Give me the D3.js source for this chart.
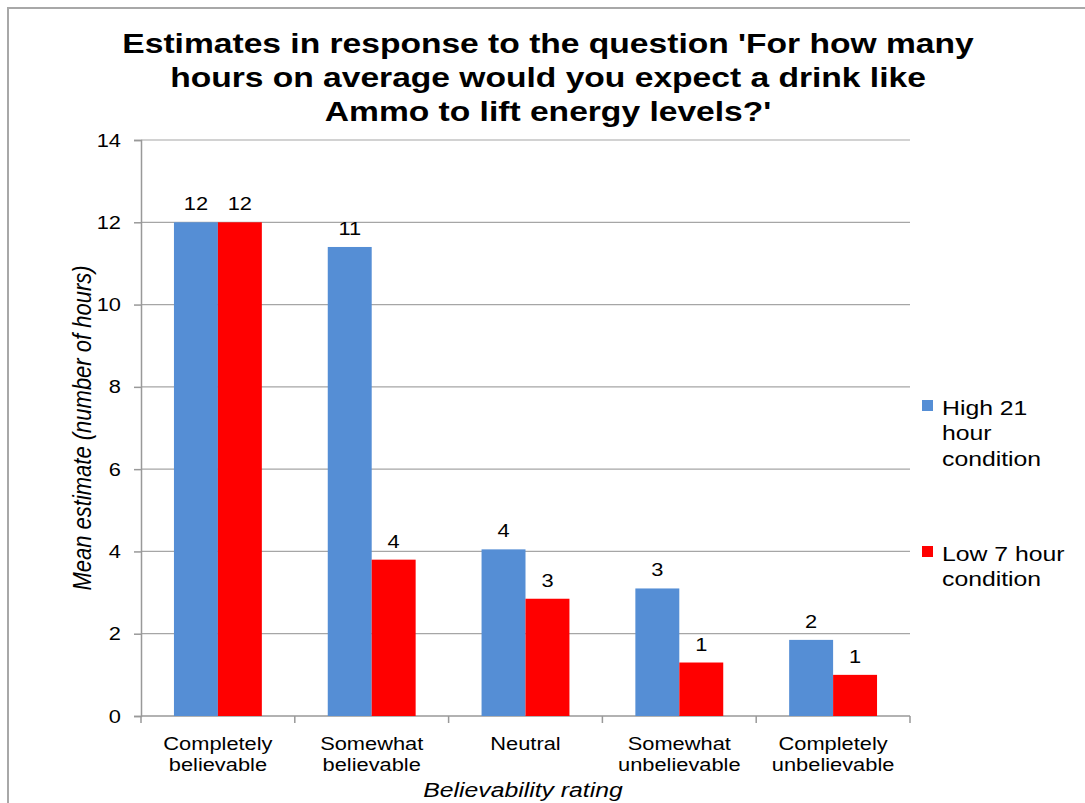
<!DOCTYPE html>
<html>
<head>
<meta charset="utf-8">
<script src="https://cdn.jsdelivr.net/npm/d3@7"></script>
<style>
body { margin: 0; background: #fff; }
text { font-family: "Liberation Sans", Arial, sans-serif; fill: #000; }
</style>
</head>
<body>
<div id="chart"></div>
<script>
var categories = [["Completely", "believable"], ["Somewhat", "believable"], ["Neutral"], ["Somewhat", "unbelievable"], ["Completely", "unbelievable"]];
var highValues = [12, 11.4, 4.05, 3.1, 1.85];
var lowValues = [12, 3.8, 2.85, 1.3, 1.0];
var seriesNames = [["High 21", "hour", "condition"], ["Low 7 hour", "condition"]];
var yTicks = [0, 2, 4, 6, 8, 10, 12, 14];
var titleLines = ["Estimates in response to the question 'For how many", "hours on average would you expect a drink like", "Ammo to lift energy levels?'"];

var width = 1085, height = 803;
var margin = {top: 140, left: 141, right: 175, bottom: 87};
var colors = ["#558ed5", "#ff0000"];
var stretch = 1.18; // the source picture is a bit wider than tall

var svg = d3.select('#chart')
    .append('svg')
    .attr('width', width)
    .attr('height', height);

// text helper: places a (possibly multi line) label, stretched sideways
function addText(x, y, lines, size, anchor, lineGap, sx, extra){
    var t = svg.append('text')
        .attr('transform', 'translate(' + x + ',' + y + ') scale(' + sx + ',1)' + (extra || ''))
        .attr('font-size', size)
        .attr('text-anchor', anchor);
    t.selectAll('tspan')
        .data(lines)
        .enter().append('tspan')
        .attr('x', 0)
        .attr('dy', function(d, i){ return i == 0 ? 0 : lineGap })
        .text(function(d){ return d });
    return t;
}

// outer frame (cut off on the right and bottom)
svg.append('rect')
    .attr('x', 8).attr('y', 8)
    .attr('width', width + 20).attr('height', height + 20)
    .attr('fill', 'none')
    .attr('stroke', '#a8a8a8')
    .attr('stroke-width', 2);

var x = d3.scaleBand()
    .domain(d3.range(categories.length))
    .range([margin.left, width - margin.right]);

var xInner = d3.scaleBand()
    .domain([0, 1])
    .range([0, x.bandwidth()])
    .paddingInner(0)
    .paddingOuter(0.75);

var y = d3.scaleLinear()
    .domain([0, 14])
    .range([height - margin.bottom, margin.top]);

// gridlines
svg.selectAll('.grid')
    .data(yTicks.slice(1))
    .enter().append('line')
    .attr('x1', margin.left).attr('x2', width - margin.right)
    .attr('y1', function(d){ return y(d) }).attr('y2', function(d){ return y(d) })
    .attr('stroke', '#a6a6a6').attr('stroke-width', 1.2);

// y axis
var yAxis = svg.append('g')
    .attr('transform', 'translate(' + margin.left + ',0)')
    .call(d3.axisLeft(y).tickValues(yTicks).tickSize(7).tickFormat(''));
yAxis.select('.domain').attr('stroke', '#999').attr('stroke-width', 1.5);
yAxis.selectAll('.tick line').attr('stroke', '#999').attr('stroke-width', 1.5);

yTicks.forEach(function(v){
    addText(margin.left - 20, y(v) + 6.5, [String(v)], 18.5, 'end', 0, stretch);
});

// x axis
var xAxisG = svg.append('g').attr('transform', 'translate(0,' + y(0) + ')');
xAxisG.append('line')
    .attr('x1', margin.left).attr('x2', width - margin.right)
    .attr('stroke', '#999').attr('stroke-width', 1.5);
xAxisG.selectAll('.xtick')
    .data(d3.range(categories.length + 1))
    .enter().append('line')
    .attr('x1', function(i){ return margin.left + i * x.step() })
    .attr('x2', function(i){ return margin.left + i * x.step() })
    .attr('y1', 0).attr('y2', 7)
    .attr('stroke', '#999').attr('stroke-width', 1.5);

categories.forEach(function(c, i){
    addText(x(i) + x.bandwidth() / 2, y(0) + 34, c, 18.5, 'middle', 21.5, stretch);
});

// bars
var series = [highValues, lowValues];
series.forEach(function(vals, s){
    svg.selectAll('.bar' + s)
        .data(vals)
        .enter().append('rect')
        .attr('x', function(d, i){ return x(i) + xInner(s) })
        .attr('y', function(d){ return y(d) })
        .attr('width', xInner.bandwidth())
        .attr('height', function(d){ return y(0) - y(d) })
        .attr('fill', colors[s]);

    vals.forEach(function(d, i){
        addText(x(i) + xInner(s) + xInner.bandwidth() / 2, y(d) - 12, [d3.format('.0f')(d)], 18.5, 'middle', 0, stretch);
    });
});

// title
var title = addText(548, 53, titleLines, 28, 'middle', 34, 1.2);
title.attr('font-weight', 'bold');

// axis titles
svg.append('text')
    .attr('text-anchor', 'middle')
    .attr('font-size', 22)
    .attr('font-style', 'italic')
    .attr('transform', 'translate(91,' + ((margin.top + y(0)) / 2) + ') scale(' + stretch + ',1) rotate(-90)')
    .text('Mean estimate (number of hours)');

addText(523, 797, ['Believability rating'], 21, 'middle', 0, stretch)
    .attr('font-style', 'italic');

// legend
var legendY = [400, 546];
seriesNames.forEach(function(lines, s){
    svg.append('rect')
        .attr('x', 922).attr('y', legendY[s])
        .attr('width', 11).attr('height', 11)
        .attr('fill', colors[s]);
    addText(942, legendY[s] + 15, lines, 21, 'start', 25.5, stretch);
});
</script>
</body>
</html>
